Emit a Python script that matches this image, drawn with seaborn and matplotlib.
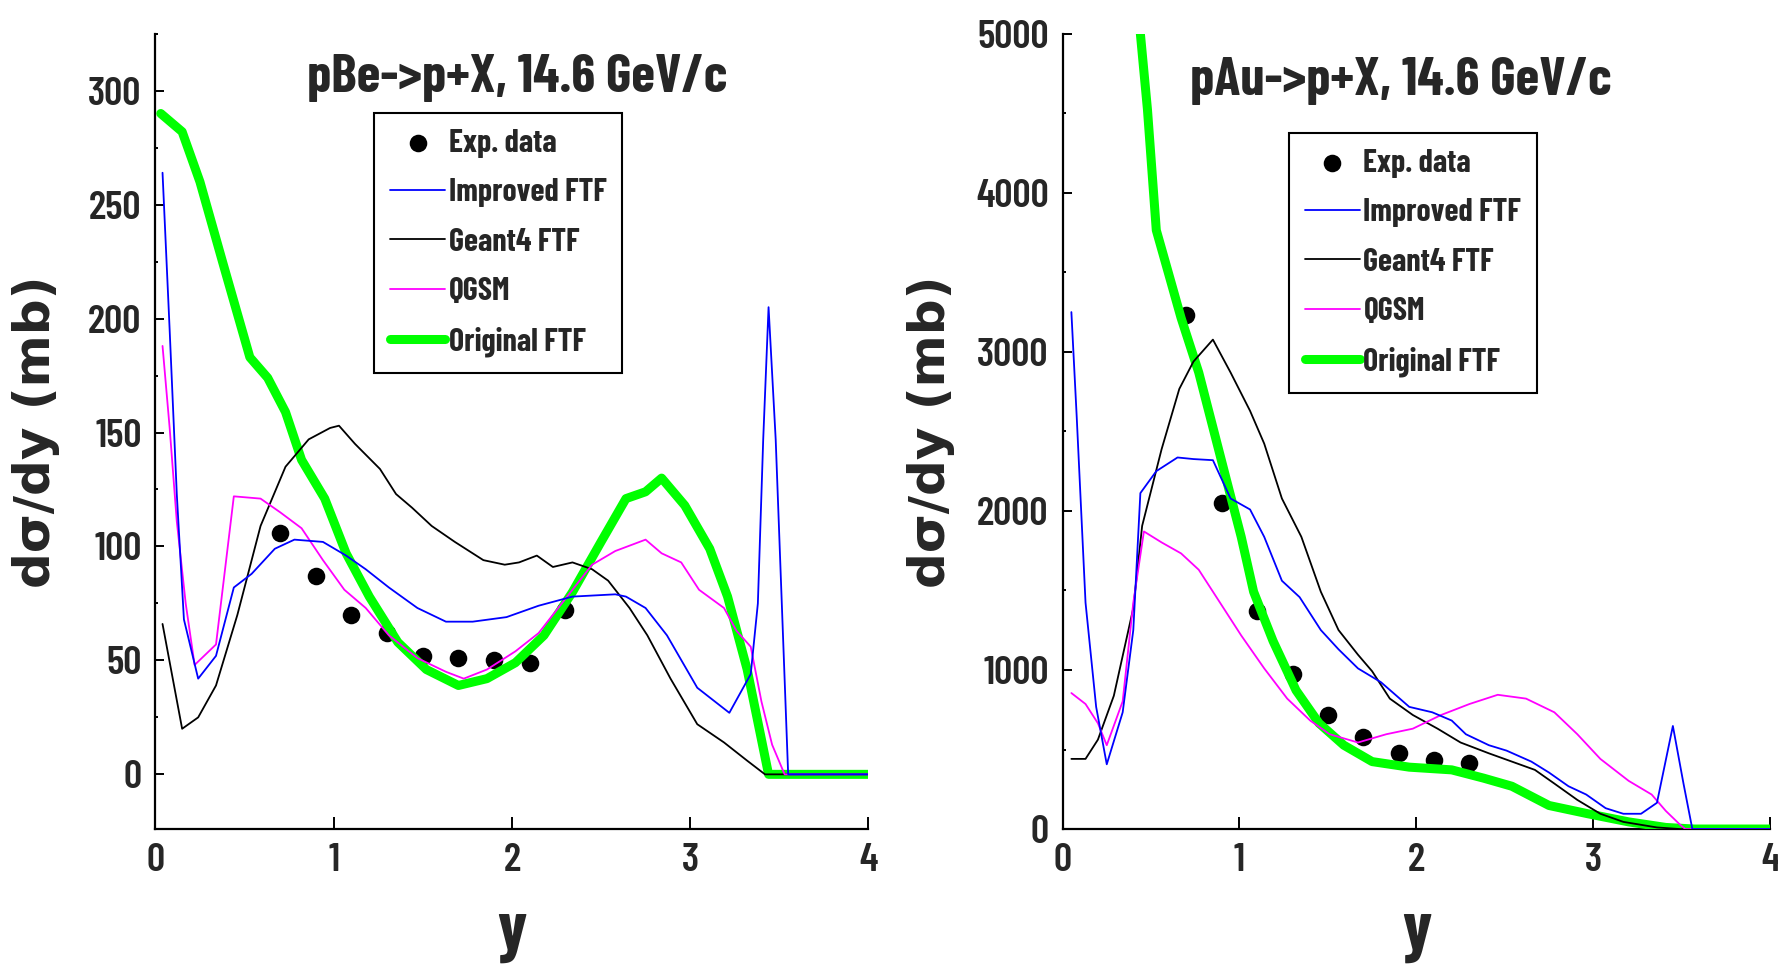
import matplotlib
matplotlib.use("Agg")
import matplotlib.pyplot as plt
import seaborn as sns
from matplotlib.ticker import MultipleLocator

# experimental rapidity points (same for both targets)
exp_y = [0.7, 0.9, 1.1, 1.3, 1.5, 1.7, 1.9, 2.1, 2.3]

# ---- pBe -> p+X ----
be_exp = [106, 87, 70, 62, 52, 51, 50, 49, 72]

be_imp_x = [0.04, 0.08, 0.12, 0.16, 0.24, 0.34, 0.44, 0.54, 0.67, 0.78, 0.94, 1.07,
            1.18, 1.31, 1.47, 1.63, 1.78, 1.97, 2.15, 2.34, 2.58, 2.64, 2.75, 2.87,
            3.04, 3.22, 3.34, 3.38, 3.41, 3.44, 3.48, 3.52, 3.55, 4.0]
be_imp = [264, 195, 123, 68, 42, 52, 82, 88, 99, 103, 102, 96,
          90, 82, 73, 67, 67, 69, 74, 78, 79, 78, 73, 61,
          38, 27, 44, 75, 147, 205, 147, 63, 0, 0]

be_g4_x = [0.04, 0.15, 0.24, 0.34, 0.46, 0.59, 0.73, 0.86, 0.98, 1.03, 1.12, 1.26,
           1.35, 1.44, 1.55, 1.68, 1.84, 1.96, 2.04, 2.14, 2.23, 2.34, 2.45, 2.54,
           2.66, 2.76, 2.89, 3.04, 3.19, 3.32, 3.42, 4.0]
be_g4 = [66, 20, 25, 39, 70, 109, 135, 147, 152, 153, 145, 134,
         123, 117, 109, 102, 94, 92, 93, 96, 91, 93, 90, 85,
         73, 61, 42, 22, 14, 6, 0, 0]

be_qgsm_x = [0.04, 0.08, 0.12, 0.17, 0.22, 0.34, 0.44, 0.59, 0.70, 0.82, 0.94, 1.06,
             1.18, 1.31, 1.47, 1.63, 1.73, 1.86, 2.02, 2.15, 2.31, 2.45, 2.58, 2.75,
             2.84, 2.95, 3.05, 3.19, 3.26, 3.34, 3.40, 3.46, 3.53, 4.0]
be_qgsm = [188, 152, 111, 75, 48, 57, 122, 121, 115, 108, 94, 81,
           73, 61, 51, 45, 42, 46, 54, 62, 78, 92, 98, 103,
           97, 93, 81, 73, 63, 56, 32, 13, 0, 0]

be_orig_x = [0.03, 0.15, 0.25, 0.38, 0.53, 0.63, 0.73, 0.82, 0.95, 1.07, 1.20, 1.36,
             1.52, 1.70, 1.86, 2.02, 2.18, 2.34, 2.50, 2.64, 2.75, 2.84, 2.97, 3.11,
             3.21, 3.32, 3.44, 4.0]
be_orig = [290, 282, 260, 224, 183, 174, 159, 138, 121, 97, 78, 58,
           46, 39, 42, 49, 61, 80, 102, 121, 124, 130, 118, 99,
           78, 46, 0, 0]

# ---- pAu -> p+X ----
au_exp = [3232, 2050, 1371, 975, 717, 579, 476, 431, 417]

au_imp_x = [0.05, 0.08, 0.13, 0.19, 0.25, 0.34, 0.40, 0.44, 0.53, 0.65, 0.74, 0.85,
            0.95, 1.06, 1.14, 1.24, 1.34, 1.46, 1.56, 1.67, 1.80, 1.96, 2.09, 2.20,
            2.28, 2.41, 2.51, 2.65, 2.75, 2.86, 2.96, 3.07, 3.17, 3.27, 3.36, 3.45,
            3.51, 3.56, 4.0]
au_imp = [3250, 2595, 1423, 768, 407, 734, 1251, 2112, 2250, 2336, 2326, 2319,
          2078, 2009, 1837, 1561, 1458, 1251, 1130, 1010, 923, 768, 734, 682,
          596, 527, 493, 424, 355, 269, 217, 131, 96, 96, 165, 648,
          286, 0, 0]

au_g4_x = [0.05, 0.13, 0.20, 0.29, 0.40, 0.45, 0.56, 0.66, 0.74, 0.85, 0.95, 1.06,
           1.14, 1.24, 1.35, 1.46, 1.56, 1.67, 1.75, 1.85, 1.98, 2.12, 2.25, 2.41,
           2.54, 2.67, 2.78, 2.91, 3.04, 3.17, 3.36, 3.49, 4.0]
au_g4 = [441, 441, 562, 838, 1389, 1906, 2388, 2767, 2939, 3077, 2870, 2629,
         2423, 2078, 1837, 1492, 1251, 1096, 992, 820, 717, 631, 544, 476,
         424, 372, 286, 183, 96, 45, 10, 0, 0]

au_qgsm_x = [0.05, 0.13, 0.20, 0.25, 0.34, 0.40, 0.46, 0.56, 0.67, 0.77, 0.87, 1.01,
             1.14, 1.27, 1.40, 1.51, 1.67, 1.83, 1.98, 2.14, 2.30, 2.46, 2.62, 2.78,
             2.91, 3.04, 3.20, 3.33, 3.41, 3.49, 3.52, 4.0]
au_qgsm = [855, 786, 665, 527, 803, 1423, 1871, 1802, 1733, 1630, 1458, 1217,
           1010, 820, 682, 596, 544, 596, 631, 717, 786, 844, 820, 734,
           596, 441, 303, 217, 114, 28, 0, 0]

au_orig_x = [0.40, 0.44, 0.48, 0.53, 0.60, 0.67, 0.77, 0.85, 0.93, 1.01, 1.08, 1.19,
             1.32, 1.45, 1.59, 1.75, 1.96, 2.20, 2.38, 2.54, 2.75, 2.97, 3.20, 3.41,
             3.57, 4.0]
au_orig = [5600, 5000, 4524, 3765, 3490, 3214, 2870, 2525, 2180, 1837, 1492, 1182,
           872, 665, 527, 424, 389, 372, 320, 269, 148, 96, 45, 10,
           0, 0]

NARROW = ['Barlow Condensed', 'PT Sans Narrow', 'Roboto Condensed',
          'IBM Plex Sans Condensed', 'DejaVu Sans']

sns.set_style("ticks")
plt.rcParams['font.family'] = NARROW


def panel(ax, exp_v, imp_x, imp_v, g4_x, g4_v, q_x, q_v, orig_x, orig_v,
          title, title_x, title_y, ylim, major, minor, leg_xy, ylab_x):
    sns.scatterplot(x=exp_y, y=exp_v, ax=ax, color='black', s=160, linewidth=0,
                    zorder=2, label='Exp. data')
    sns.lineplot(x=orig_x, y=orig_v, ax=ax, color='#00ff00', lw=6.5, sort=False,
                 estimator=None, zorder=3, label='Original FTF')
    sns.lineplot(x=g4_x, y=g4_v, ax=ax, color='black', lw=1.3, sort=False,
                 estimator=None, zorder=4, label='Geant4 FTF')
    sns.lineplot(x=q_x, y=q_v, ax=ax, color='#ff00ff', lw=1.3, sort=False,
                 estimator=None, zorder=4, label='QGSM')
    sns.lineplot(x=imp_x, y=imp_v, ax=ax, color='#0000ff', lw=1.3, sort=False,
                 estimator=None, zorder=5, label='Improved FTF')

    ax.set_xlim(0, 4)
    ax.set_ylim(*ylim)
    ax.xaxis.set_major_locator(MultipleLocator(1))
    ax.yaxis.set_major_locator(MultipleLocator(major))
    ax.yaxis.set_minor_locator(MultipleLocator(minor))
    ax.spines[['top', 'right']].set_visible(False)
    for s in ['left', 'bottom']:
        ax.spines[s].set_linewidth(1.6)
        ax.spines[s].set_color('black')
    ax.tick_params(axis='both', which='both', direction='in', color='black',
                   width=1.4, labelsize=29, pad=10)
    ax.tick_params(axis='y', which='major', length=6.5)
    ax.tick_params(axis='y', which='minor', length=2.5)
    ax.tick_params(axis='x', which='major', length=9)
    for lbl in ax.get_xticklabels() + ax.get_yticklabels():
        lbl.set_fontweight(600)
    ax.set_xlabel('')
    ax.set_ylabel('')

    ax.text(title_x, title_y, title, transform=ax.transAxes, ha='center',
            va='baseline', fontsize=39, fontweight='bold')
    ax.text(0.5, -0.150, 'y', transform=ax.transAxes, ha='center',
            va='baseline', fontsize=50, fontweight='bold')
    ax.text(ylab_x, 0.5, 'dσ/dy (mb)', transform=ax.transAxes, rotation=90,
            ha='center', va='center', fontsize=36, fontweight='bold',
            family='DejaVu Sans')

    handles, labels = ax.get_legend_handles_labels()
    lookup = dict(zip(labels, handles))
    order = ['Exp. data', 'Improved FTF', 'Geant4 FTF', 'QGSM', 'Original FTF']
    leg = ax.legend([lookup[k] for k in order], order, loc='upper left',
                    bbox_to_anchor=leg_xy, borderaxespad=0, frameon=True,
                    fancybox=False, framealpha=1, edgecolor='black',
                    prop={'family': NARROW, 'weight': 'bold', 'size': 23},
                    borderpad=0.5, labelspacing=0.64, handlelength=1.74,
                    handletextpad=0.1)
    leg.get_frame().set_linewidth(1.5)


fig = plt.figure(figsize=(17.78, 9.64), dpi=100)
ax1 = fig.add_axes([0.0874, 0.140, 0.401, 0.825])
ax2 = fig.add_axes([0.5976, 0.140, 0.398, 0.825])

panel(ax1, be_exp, be_imp_x, be_imp, be_g4_x, be_g4, be_qgsm_x, be_qgsm,
      be_orig_x, be_orig, 'pBe->p+X, 14.6 GeV/c', 0.5076, 0.927,
      (-24, 325), 50, 25, (0.3065, 0.9006), -0.168)
panel(ax2, au_exp, au_imp_x, au_imp, au_g4_x, au_g4, au_qgsm_x, au_qgsm,
      au_orig_x, au_orig, 'pAu->p+X, 14.6 GeV/c', 0.478, 0.923,
      (0, 5000), 1000, 500, (0.3196, 0.8755), -0.186)

fig.savefig('out.png', dpi=100)
